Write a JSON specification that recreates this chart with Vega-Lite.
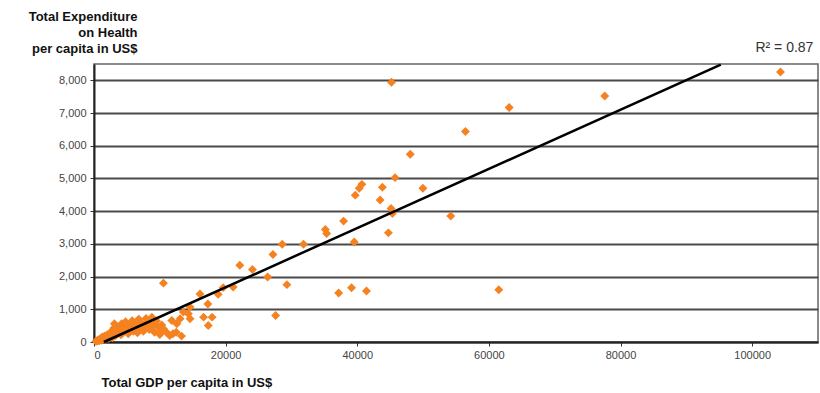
{
  "$schema": "https://vega.github.io/schema/vega-lite/v6.json",
  "width": 724,
  "height": 278,
  "autosize": {"type": "none"},
  "padding": {"left": 94, "top": 64, "right": 2, "bottom": 51},
  "background": "white",
  "config": {
    "view": {"stroke": "#666", "strokeWidth": 1.5},
    "font": "Liberation Sans"
  },
  "datasets": {
    "countries": [
      {"gdp": 104300, "health": 8256},
      {"gdp": 45200, "health": 7940},
      {"gdp": 77600, "health": 7520},
      {"gdp": 63080, "health": 7170},
      {"gdp": 56430, "health": 6435},
      {"gdp": 48050, "health": 5740},
      {"gdp": 45740, "health": 5025},
      {"gdp": 40700, "health": 4820},
      {"gdp": 40300, "health": 4700},
      {"gdp": 39690, "health": 4490},
      {"gdp": 43820, "health": 4730},
      {"gdp": 49970, "health": 4700},
      {"gdp": 43470, "health": 4340},
      {"gdp": 45130, "health": 4085},
      {"gdp": 45330, "health": 3930},
      {"gdp": 54200, "health": 3850},
      {"gdp": 44730, "health": 3337},
      {"gdp": 39540, "health": 3060},
      {"gdp": 39130, "health": 1660},
      {"gdp": 41400, "health": 1560},
      {"gdp": 61500, "health": 1600},
      {"gdp": 37920, "health": 3696},
      {"gdp": 35150, "health": 3440},
      {"gdp": 35350, "health": 3318},
      {"gdp": 31830, "health": 2990},
      {"gdp": 28600, "health": 2990},
      {"gdp": 27190, "health": 2674},
      {"gdp": 22150, "health": 2346},
      {"gdp": 24070, "health": 2214},
      {"gdp": 26380, "health": 1988},
      {"gdp": 29310, "health": 1754},
      {"gdp": 37170, "health": 1497},
      {"gdp": 21140, "health": 1681},
      {"gdp": 19630, "health": 1662},
      {"gdp": 18870, "health": 1457},
      {"gdp": 16100, "health": 1470},
      {"gdp": 17300, "health": 1160},
      {"gdp": 16650, "health": 760},
      {"gdp": 17950, "health": 760},
      {"gdp": 17360, "health": 506},
      {"gdp": 27590, "health": 813},
      {"gdp": 10550, "health": 1800},
      {"gdp": 14590, "health": 1067},
      {"gdp": 14330, "health": 865},
      {"gdp": 14590, "health": 712},
      {"gdp": 13080, "health": 712},
      {"gdp": 13580, "health": 914},
      {"gdp": 11820, "health": 660},
      {"gdp": 12580, "health": 558},
      {"gdp": 10550, "health": 405},
      {"gdp": 9800, "health": 454},
      {"gdp": 9040, "health": 506},
      {"gdp": 300, "health": 20},
      {"gdp": 500, "health": 30},
      {"gdp": 600, "health": 60},
      {"gdp": 800, "health": 40},
      {"gdp": 900, "health": 90},
      {"gdp": 1000, "health": 70},
      {"gdp": 1100, "health": 120},
      {"gdp": 1200, "health": 50},
      {"gdp": 1300, "health": 150},
      {"gdp": 1500, "health": 100},
      {"gdp": 1600, "health": 180},
      {"gdp": 1700, "health": 80},
      {"gdp": 1800, "health": 130},
      {"gdp": 2000, "health": 220},
      {"gdp": 2100, "health": 160},
      {"gdp": 2200, "health": 110},
      {"gdp": 2400, "health": 260},
      {"gdp": 2500, "health": 190},
      {"gdp": 2700, "health": 330},
      {"gdp": 2800, "health": 140},
      {"gdp": 2900, "health": 240},
      {"gdp": 3000, "health": 420},
      {"gdp": 3100, "health": 560},
      {"gdp": 3200, "health": 300},
      {"gdp": 3300, "health": 200},
      {"gdp": 3500, "health": 380},
      {"gdp": 3600, "health": 260},
      {"gdp": 3800, "health": 470},
      {"gdp": 3900, "health": 330},
      {"gdp": 4100, "health": 220},
      {"gdp": 4200, "health": 560},
      {"gdp": 4300, "health": 400},
      {"gdp": 4500, "health": 300},
      {"gdp": 4700, "health": 480},
      {"gdp": 4800, "health": 620},
      {"gdp": 5000, "health": 360},
      {"gdp": 5200, "health": 250},
      {"gdp": 5400, "health": 520},
      {"gdp": 5600, "health": 420},
      {"gdp": 5800, "health": 650},
      {"gdp": 6000, "health": 330},
      {"gdp": 6200, "health": 560},
      {"gdp": 6400, "health": 460},
      {"gdp": 6600, "health": 280},
      {"gdp": 6800, "health": 700},
      {"gdp": 7000, "health": 400},
      {"gdp": 7200, "health": 580},
      {"gdp": 7500, "health": 330},
      {"gdp": 7700, "health": 480},
      {"gdp": 7900, "health": 720},
      {"gdp": 8200, "health": 620},
      {"gdp": 8400, "health": 380},
      {"gdp": 8600, "health": 520},
      {"gdp": 8800, "health": 760},
      {"gdp": 9200, "health": 300},
      {"gdp": 9500, "health": 640},
      {"gdp": 10000, "health": 230},
      {"gdp": 10050, "health": 300},
      {"gdp": 10300, "health": 520},
      {"gdp": 11000, "health": 300},
      {"gdp": 11500, "health": 200},
      {"gdp": 12000, "health": 250},
      {"gdp": 12500, "health": 300},
      {"gdp": 13300, "health": 180}
    ],
    "trend": [
      {"gdp": 1500, "health": 0},
      {"gdp": 95230, "health": 8480}
    ],
    "note": [
      {"label": "R² = 0.87"}
    ]
  },
  "layer": [
    {
      "data": {"name": "countries"},
      "mark": {"type": "point", "shape": "diamond", "filled": true, "size": 80, "color": "#f58220", "opacity": 1, "strokeWidth": 0},
      "encoding": {
        "x": {
          "field": "gdp", "type": "quantitative",
          "scale": {"domain": [0, 110000], "nice": false, "zero": true},
          "axis": {
            "values": [0, 20000, 40000, 60000, 80000, 100000],
            "format": "d",
            "grid": false,
            "domainColor": "#222", "domainWidth": 2,
            "tickColor": "#333", "tickSize": 4, "tickWidth": 1,
            "labelFont": "Liberation Sans", "labelFontSize": 11, "labelColor": "#444", "labelPadding": 3,
            "title": "Total GDP per capita in US$",
            "titleFont": "Liberation Sans", "titleFontSize": 13, "titleFontWeight": "bold", "titleColor": "#111",
            "titleAlign": "left", "titleAnchor": "start", "titleX": 7, "titleY": 44, "titleBaseline": "alphabetic"
          }
        },
        "y": {
          "field": "health", "type": "quantitative",
          "scale": {"domain": [0, 8500], "nice": false, "zero": true},
          "axis": {
            "values": [0, 1000, 2000, 3000, 4000, 5000, 6000, 7000, 8000],
            "format": ",.0f",
            "labelOverlap": false,
            "grid": true, "gridColor": "#4a4a4a", "gridWidth": 1.8,
            "domainColor": "#222", "domainWidth": 2,
            "tickColor": "#333", "tickSize": 4, "tickWidth": 1,
            "labelFont": "Liberation Sans", "labelFontSize": 11, "labelColor": "#444", "labelPadding": 4,
            "title": ["Total Expenditure", "on Health", "per capita in US$"],
            "titleFont": "Liberation Sans", "titleFontSize": 13, "titleFontWeight": "bold", "titleColor": "#111",
            "titleAngle": 0, "titleAlign": "right", "titleBaseline": "alphabetic",
            "titleX": 43, "titleY": -44, "titleLineHeight": 16
          }
        }
      }
    },
    {
      "data": {"name": "trend"},
      "mark": {"type": "line", "color": "#000", "strokeWidth": 2.5},
      "encoding": {
        "x": {
          "field": "gdp", "type": "quantitative",
          "axis": {
            "values": [0, 20000, 40000, 60000, 80000, 100000],
            "format": "d",
            "grid": false,
            "domainColor": "#222", "domainWidth": 2,
            "tickColor": "#333", "tickSize": 4, "tickWidth": 1,
            "labelFont": "Liberation Sans", "labelFontSize": 11, "labelColor": "#444", "labelPadding": 3,
            "title": "Total GDP per capita in US$",
            "titleFont": "Liberation Sans", "titleFontSize": 13, "titleFontWeight": "bold", "titleColor": "#111",
            "titleAlign": "left", "titleAnchor": "start", "titleX": 7, "titleY": 44, "titleBaseline": "alphabetic"
          }
        },
        "y": {
          "field": "health", "type": "quantitative",
          "axis": {
            "values": [0, 1000, 2000, 3000, 4000, 5000, 6000, 7000, 8000],
            "format": ",.0f",
            "labelOverlap": false,
            "grid": true, "gridColor": "#4a4a4a", "gridWidth": 1.8,
            "domainColor": "#222", "domainWidth": 2,
            "tickColor": "#333", "tickSize": 4, "tickWidth": 1,
            "labelFont": "Liberation Sans", "labelFontSize": 11, "labelColor": "#444", "labelPadding": 4,
            "title": ["Total Expenditure", "on Health", "per capita in US$"],
            "titleFont": "Liberation Sans", "titleFontSize": 13, "titleFontWeight": "bold", "titleColor": "#111",
            "titleAngle": 0, "titleAlign": "right", "titleBaseline": "alphabetic",
            "titleX": 43, "titleY": -44, "titleLineHeight": 16
          }
        }
      }
    },
    {
      "data": {"name": "note"},
      "mark": {"type": "text", "align": "right", "baseline": "alphabetic", "font": "Liberation Sans", "fontSize": 14, "fill": "#333"},
      "encoding": {
        "x": {
          "datum": 109300,
          "axis": {
            "values": [0, 20000, 40000, 60000, 80000, 100000],
            "format": "d",
            "grid": false,
            "domainColor": "#222", "domainWidth": 2,
            "tickColor": "#333", "tickSize": 4, "tickWidth": 1,
            "labelFont": "Liberation Sans", "labelFontSize": 11, "labelColor": "#444", "labelPadding": 3,
            "title": "Total GDP per capita in US$",
            "titleFont": "Liberation Sans", "titleFontSize": 13, "titleFontWeight": "bold", "titleColor": "#111",
            "titleAlign": "left", "titleAnchor": "start", "titleX": 7, "titleY": 44, "titleBaseline": "alphabetic"
          }
        },
        "y": {
          "datum": 8870,
          "axis": {
            "values": [0, 1000, 2000, 3000, 4000, 5000, 6000, 7000, 8000],
            "format": ",.0f",
            "labelOverlap": false,
            "grid": true, "gridColor": "#4a4a4a", "gridWidth": 1.8,
            "domainColor": "#222", "domainWidth": 2,
            "tickColor": "#333", "tickSize": 4, "tickWidth": 1,
            "labelFont": "Liberation Sans", "labelFontSize": 11, "labelColor": "#444", "labelPadding": 4,
            "title": ["Total Expenditure", "on Health", "per capita in US$"],
            "titleFont": "Liberation Sans", "titleFontSize": 13, "titleFontWeight": "bold", "titleColor": "#111",
            "titleAngle": 0, "titleAlign": "right", "titleBaseline": "alphabetic",
            "titleX": 43, "titleY": -44, "titleLineHeight": 16
          }
        },
        "text": {"field": "label"}
      }
    }
  ]
}
